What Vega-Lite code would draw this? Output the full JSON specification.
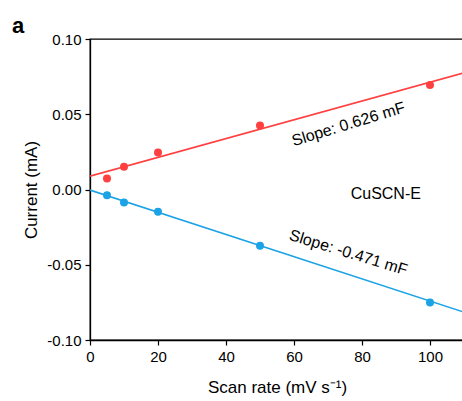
{
  "$schema": "https://vega.github.io/schema/vega-lite/v6.json",
  "width": 374,
  "height": 301,
  "autosize": {"type": "none"},
  "padding": {"left": 90, "top": 39, "right": 0, "bottom": 61},
  "background": "white",
  "config": {
    "view": {"stroke": "black", "strokeWidth": 1.3},
    "font": "Liberation Sans",
    "axis": {
      "grid": false,
      "domainColor": "black",
      "domainWidth": 1.3,
      "tickColor": "black",
      "tickWidth": 1.2,
      "labelColor": "black",
      "titleColor": "black",
      "labelFont": "Liberation Sans",
      "titleFont": "Liberation Sans",
      "labelFontSize": 15,
      "titleFontSize": 17,
      "titleFontWeight": "normal",
      "labelFlush": false
    }
  },
  "datasets": {
    "points": [
      {"rate": 5, "current": 0.0073, "branch": "anodic"},
      {"rate": 10, "current": 0.0151, "branch": "anodic"},
      {"rate": 20, "current": 0.0246, "branch": "anodic"},
      {"rate": 50, "current": 0.0426, "branch": "anodic"},
      {"rate": 100, "current": 0.0694, "branch": "anodic"},
      {"rate": 5, "current": -0.0038, "branch": "cathodic"},
      {"rate": 10, "current": -0.0087, "branch": "cathodic"},
      {"rate": 20, "current": -0.0148, "branch": "cathodic"},
      {"rate": 50, "current": -0.0373, "branch": "cathodic"},
      {"rate": 100, "current": -0.0750, "branch": "cathodic"}
    ],
    "fits": [
      {"rate": 0, "current": 0.0089, "branch": "anodic"},
      {"rate": 110, "current": 0.0775, "branch": "anodic"},
      {"rate": 0, "current": -0.0004, "branch": "cathodic"},
      {"rate": 110, "current": -0.0815, "branch": "cathodic"}
    ],
    "labels": [
      {"rate": 76, "current": 0.0433, "text": "Slope: 0.626 mF", "angle": -17},
      {"rate": 76, "current": -0.042, "text": "Slope: -0.471 mF", "angle": 17},
      {"rate": 87, "current": -0.0027, "text": "CuSCN-E", "angle": 0}
    ]
  },
  "title": {
    "text": "a",
    "anchor": "start",
    "frame": "group",
    "fontSize": 22,
    "fontWeight": "bold",
    "font": "Liberation Sans",
    "color": "black",
    "dx": -78,
    "dy": 6,
    "offset": 0
  },
  "layer": [
    {
      "data": {"name": "fits"},
      "mark": {"type": "line", "strokeWidth": 1.6, "clip": true},
      "encoding": {
        "x": {
          "field": "rate",
          "type": "quantitative",
          "scale": {"domain": [0, 110], "nice": false},
          "axis": {
            "values": [0, 10, 20, 30, 40, 50, 60, 70, 80, 90, 100, 110],
            "labelExpr": "datum.value % 20 == 0 && datum.value <= 100 ? datum.label : ''",
            "tickSize": {"condition": {"test": "datum.value % 20 == 0", "value": 5}, "value": 3},
            "labelPadding": 4,
            "titlePadding": 15,
            "title": "Scan rate (mV s⁻¹)"
          }
        },
        "y": {
          "field": "current",
          "type": "quantitative",
          "scale": {"domain": [-0.1, 0.1], "nice": false, "zero": false},
          "axis": {
            "values": [-0.1, -0.075, -0.05, -0.025, 0, 0.025, 0.05, 0.075, 0.1],
            "labelExpr": "abs(datum.value*20 - round(datum.value*20)) < 0.001 ? replace(format(datum.value, '.2f'), '−', '-') : ''",
            "tickSize": {"condition": {"test": "abs(datum.value*20 - round(datum.value*20)) < 0.001", "value": 5}, "value": 3},
            "labelPadding": 4,
            "titlePadding": 6,
            "title": "Current (mA)"
          }
        },
        "detail": {"field": "branch"},
        "color": {
          "field": "branch",
          "type": "nominal",
          "scale": {"domain": ["anodic", "cathodic"], "range": ["#FF4040", "#1BA3E6"]},
          "legend": null
        }
      }
    },
    {
      "data": {"name": "points"},
      "mark": {"type": "point", "filled": true, "opacity": 1, "size": 64},
      "encoding": {
        "x": {"field": "rate", "type": "quantitative"},
        "y": {"field": "current", "type": "quantitative"},
        "color": {"field": "branch", "type": "nominal", "legend": null}
      }
    },
    {
      "data": {"name": "labels"},
      "mark": {"type": "text", "fontSize": 16, "font": "Liberation Sans", "color": "black", "align": "center", "baseline": "middle"},
      "encoding": {
        "x": {"field": "rate", "type": "quantitative"},
        "y": {"field": "current", "type": "quantitative"},
        "text": {"field": "text"},
        "angle": {"field": "angle", "type": "quantitative", "scale": null}
      }
    }
  ]
}
